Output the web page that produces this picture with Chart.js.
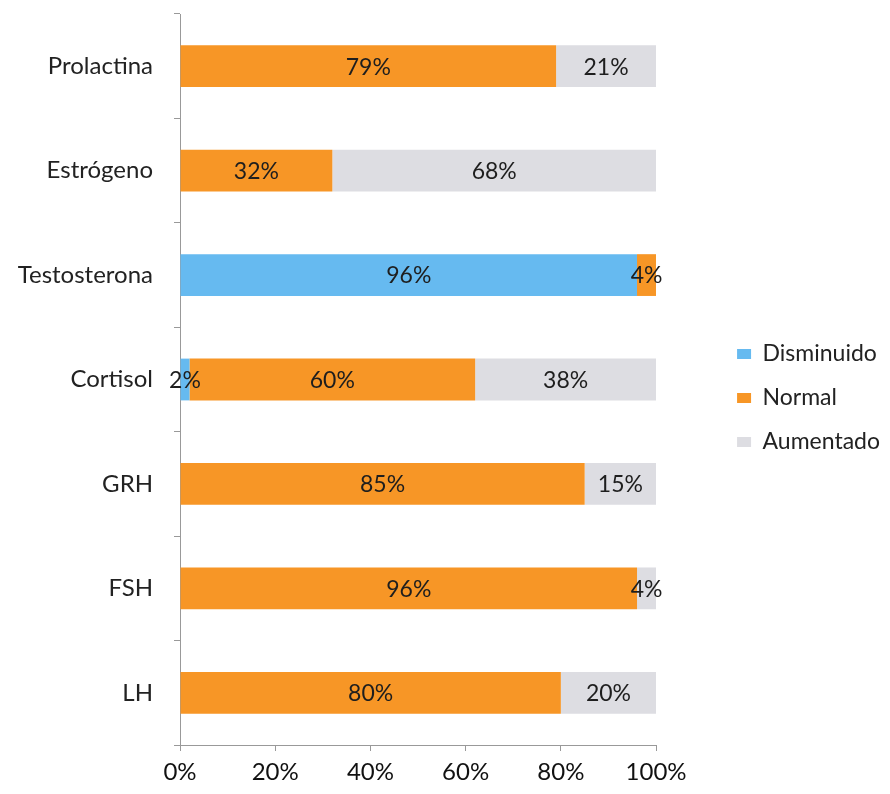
<!DOCTYPE html>
<html>
<head>
<meta charset="utf-8">
<script src="https://cdn.jsdelivr.net/npm/chart.js@4"></script>
<style>
  body { margin: 0; background: #fff; }
  #wrap { width: 890px; height: 794px; }
</style>
</head>
<body>
<div id="wrap"><canvas id="hormonas"></canvas></div>
<script>
// categorias (de arriba hacia abajo)
var hormonas = ["Prolactina", "Estrógeno", "Testosterona", "Cortisol", "GRH", "FSH", "LH"];

// porcentajes por serie
var disminuido = [0, 0, 96, 2, 0, 0, 0];
var normal = [79, 32, 4, 60, 85, 96, 80];
var aumentado = [21, 68, 0, 38, 15, 4, 20];

var ticksX = [0, 20, 40, 60, 80, 100];

var fuente = "Lato, 'Open Sans', sans-serif";

var Disminuido = {
  label: "Disminuido",
  data: disminuido,
  backgroundColor: "rgb(102,186,240)",
};

var Normal = {
  label: "Normal",
  data: normal,
  backgroundColor: "rgb(247,150,38)",
};

var Aumentado = {
  label: "Aumentado",
  data: aumentado,
  backgroundColor: "rgb(221,221,226)",
};

// escribe el porcentaje en el centro de cada segmento
var etiquetas = {
  id: "etiquetas",
  afterDatasetsDraw: function (chart) {
    var ctx = chart.ctx;
    ctx.save();
    ctx.font = "23px " + fuente;
    ctx.fillStyle = "#1e1e1e";
    ctx.textAlign = "center";
    ctx.textBaseline = "middle";
    chart.data.datasets.forEach(function (ds, i) {
      chart.getDatasetMeta(i).data.forEach(function (bar, j) {
        var v = ds.data[j];
        if (!v) return;
        var p = bar.getCenterPoint();
        ctx.fillText(v + "%", p.x, p.y + 1);
      });
    });
    ctx.restore();
  },
};

// sube un poco la leyenda
var subirLeyenda = {
  id: "subirLeyenda",
  afterLayout: function (chart) {
    chart.legend.top -= 4;
    chart.legend.bottom -= 4;
  },
};

const ctx = document.getElementById("hormonas");
const grafico = new Chart(ctx, {
  type: "bar",
  data: {
    labels: hormonas,
    datasets: [Disminuido, Normal, Aumentado],
  },
  options: {
    indexAxis: "y",
    responsive: true,
    maintainAspectRatio: false,
    animation: false,
    layout: { padding: { top: 14, left: 10, right: 0, bottom: 4 } },
    datasets: {
      bar: { barPercentage: 0.4, categoryPercentage: 1 },
    },
    scales: {
      x: {
        stacked: true,
        min: 0,
        max: 100,
        afterBuildTicks: function (axis) {
          axis.ticks = ticksX.map(function (v) { return { value: v }; });
        },
        afterFit: function (axis) { axis.height = 45; },
        grid: { drawOnChartArea: false, drawTicks: true, tickLength: 6, color: "#999" },
        border: { color: "#999" },
        ticks: {
          color: "#111",
          font: { family: fuente, size: 24 },
          padding: 7,
          callback: function (v) { return v + "%"; },
        },
      },
      y: {
        stacked: true,
        afterFit: function (axis) {
          axis.width = 170;
          axis.paddingTop = 0;
          axis.paddingBottom = 0;
        },
        grid: { drawOnChartArea: false, drawTicks: true, tickLength: 6, color: "#999", offset: true },
        border: { color: "#999" },
        ticks: {
          color: "#222",
          font: { family: fuente, size: 24 },
          padding: 21,
        },
      },
      // espacio vacio entre el grafico y la leyenda
      hueco: {
        type: "linear",
        axis: "y",
        position: "right",
        grid: { display: false },
        border: { display: false },
        ticks: { display: false },
        afterFit: function (axis) { axis.width = 60; },
      },
    },
    plugins: {
      legend: {
        position: "right",
        maxWidth: 220,
        labels: {
          boxWidth: 14,
          boxHeight: 10,
          padding: 21,
          color: "#222",
          font: { family: fuente, size: 23 },
        },
      },
      tooltip: { enabled: false },
    },
  },
  plugins: [etiquetas, subirLeyenda],
});
</script>
</body>
</html>
